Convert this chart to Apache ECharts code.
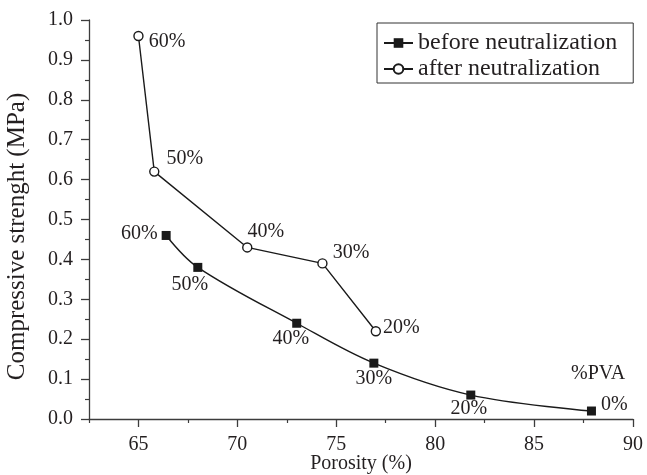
<!DOCTYPE html>
<html>
<head>
<meta charset="utf-8">
<script src="https://cdn.jsdelivr.net/npm/echarts@6/dist/echarts.min.js"></script>
<style>
  html, body { margin: 0; padding: 0; background: #fff; }
  #chart { width: 647px; height: 475px; }
</style>
</head>
<body>
<div id="chart"></div>
<script>
// Porosity (%) and compressive strength (MPa) for each PVA content
const porosityBefore = [66.4, 68.0, 73.0, 76.9, 81.8, 87.9];
const strengthBefore = [0.46, 0.38, 0.24, 0.14, 0.06, 0.02];
const pvaBefore = ['60%', '50%', '40%', '30%', '20%', '0%'];

const porosityAfter = [65.0, 65.8, 70.5, 74.3, 77.0];
const strengthAfter = [0.96, 0.62, 0.43, 0.39, 0.22];
const pvaAfter = ['60%', '50%', '40%', '30%', '20%'];

const xMajorTicks = [65, 70, 75, 80, 85, 90];
const xMinorTicks = [62.5, 67.5, 72.5, 77.5, 82.5, 87.5];

// where each %PVA tag sits next to its point
const beforeLabelPlace = [
  { position: 'left', offset: [1, -2] },
  { position: 'bottom', offset: [-8, -2] },
  { position: 'bottom', offset: [-6, -4] },
  { position: 'bottom', offset: [0, -4] },
  { position: 'bottom', offset: [-2, -6] },
  { position: 'right', offset: [0, -6] }
];
const afterLabelPlace = [
  { position: 'right', offset: [0, 6] },
  { position: 'right', offset: [2, -13] },
  { position: 'right', offset: [-10, -16] },
  { position: 'right', offset: [0, -11] },
  { position: 'right', offset: [-3, -3] }
];

const FONT = 'Liberation Serif';
const INK = '#231f20';
const AXIS = '#3c3c3c';

function buildPoints(xs, ys, tags, places) {
  return xs.map((x, i) => ({
    value: [x, ys[i]],
    label: {
      show: true,
      formatter: tags[i],
      position: places[i].position,
      offset: places[i].offset,
      distance: 5,
      fontFamily: FONT,
      fontSize: 20,
      color: INK
    }
  }));
}

const chart = echarts.init(document.getElementById('chart'), null, { renderer: 'canvas' });

chart.setOption({
  animation: false,
  backgroundColor: '#fff',
  grid: { left: 89, right: 14, top: 20, bottom: 56, containLabel: false, outerBoundsMode: 'none' },
  legend: {
    orient: 'vertical',
    left: 377,
    top: 23,
    padding: [8, 16, 2, 6],
    itemWidth: 29,
    itemHeight: 12,
    itemGap: 2,
    borderColor: '#333',
    borderWidth: 1,
    textStyle: { fontFamily: FONT, fontSize: 24, lineHeight: 22, color: INK },
    data: ['before neutralization', 'after neutralization']
  },
  xAxis: [
    {
      type: 'value',
      min: 62.5,
      max: 90,
      name: 'Porosity (%)',
      nameLocation: 'middle',
      nameGap: 35,
      nameMoveOverlap: false,
      nameTextStyle: { fontFamily: FONT, fontSize: 20, color: INK },
      axisLine: { show: true, onZero: false, lineStyle: { color: AXIS, width: 1.3 } },
      axisTick: { show: true, length: 8, customValues: xMajorTicks, lineStyle: { color: AXIS, width: 1.3 } },
      axisLabel: { customValues: xMajorTicks, margin: 16, fontFamily: FONT, fontSize: 20, color: INK },
      splitLine: { show: false }
    },
    {
      type: 'value',
      min: 62.5,
      max: 90,
      position: 'bottom',
      axisLine: { show: false },
      axisTick: { show: true, length: 4, customValues: xMinorTicks, lineStyle: { color: AXIS, width: 1.2 } },
      axisLabel: { show: false },
      splitLine: { show: false }
    }
  ],
  yAxis: {
    type: 'value',
    min: 0,
    max: 1,
    interval: 0.1,
    name: 'Compressive strenght (MPa)',
    nameLocation: 'middle',
    nameGap: 59,
    nameRotate: 90,
    nameMoveOverlap: false,
    nameTextStyle: { fontFamily: FONT, fontSize: 25, color: INK, padding: [0, 34, 0, 0] },
    axisLine: { show: true, onZero: false, lineStyle: { color: AXIS, width: 1.3 } },
    axisTick: { show: true, length: 8, lineStyle: { color: AXIS, width: 1.3 } },
    minorTick: { show: true, splitNumber: 2, length: 4, lineStyle: { color: AXIS, width: 1.2 } },
    axisLabel: {
      margin: 16,
      fontFamily: FONT,
      fontSize: 20,
      color: INK,
      formatter: v => v.toFixed(1)
    },
    splitLine: { show: false }
  },
  series: [
    {
      name: 'before neutralization',
      type: 'line',
      smooth: 0.35,
      symbol: 'rect',
      symbolSize: 9,
      itemStyle: { color: '#1a1a1a', borderColor: '#1a1a1a', borderWidth: 0 },
      lineStyle: { color: '#1a1a1a', width: 1.4 },
      data: buildPoints(porosityBefore, strengthBefore, pvaBefore, beforeLabelPlace)
    },
    {
      name: 'after neutralization',
      type: 'line',
      symbol: 'circle',
      symbolSize: 9,
      itemStyle: { color: '#fff', borderColor: '#1a1a1a', borderWidth: 1.4 },
      lineStyle: { color: '#1a1a1a', width: 1.4 },
      data: buildPoints(porosityAfter, strengthAfter, pvaAfter, afterLabelPlace)
    }
  ],
  graphic: [
    {
      type: 'text',
      left: 571,
      top: 364,
      style: { text: '%PVA', fontFamily: FONT, fontSize: 20, fill: INK }
    }
  ]
});
</script>
</body>
</html>
